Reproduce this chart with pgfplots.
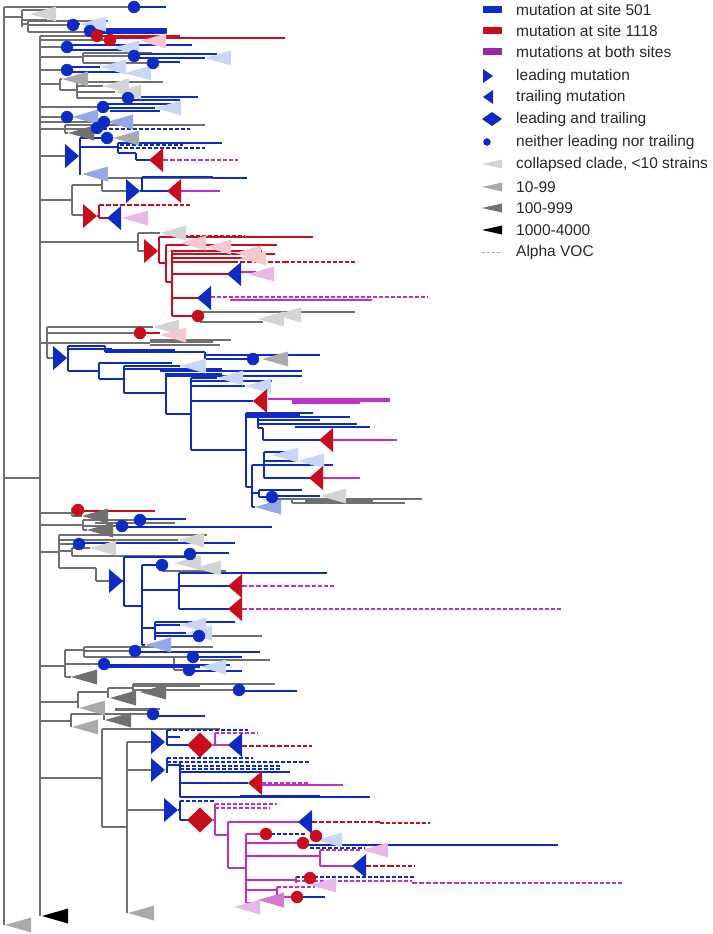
\documentclass[border=0pt]{standalone}
\usepackage{pgfplots}
\pgfplotsset{compat=1.18}
\usepackage{fontspec}
\setmainfont{Liberation Sans}
\definecolor{cgrey}{RGB}{112,112,112}
\definecolor{cblue}{RGB}{14,44,196}
\definecolor{cred}{RGB}{200,14,28}
\definecolor{cpur}{RGB}{192,48,200}
\definecolor{clegpur}{RGB}{150,40,160}
\definecolor{tlgrey}{RGB}{212,212,212}
\definecolor{tmgrey}{RGB}{170,170,170}
\definecolor{tdgrey}{RGB}{112,112,112}
\definecolor{tlblue}{RGB}{202,214,246}
\definecolor{tmblue}{RGB}{150,168,230}
\definecolor{tpink}{RGB}{244,200,206}
\definecolor{tlpur}{RGB}{232,184,232}
\definecolor{tmpur}{RGB}{212,120,212}
\definecolor{ctext}{RGB}{40,40,40}
\pgfdeclareplotmark{lead}{\pgfpathmoveto{\pgfqpoint{-7pt}{12pt}}\pgfpathlineto{\pgfqpoint{7pt}{0pt}}\pgfpathlineto{\pgfqpoint{-7pt}{-12pt}}\pgfpathclose\pgfusepathqfill}
\pgfdeclareplotmark{trail}{\pgfpathmoveto{\pgfqpoint{7pt}{12pt}}\pgfpathlineto{\pgfqpoint{-7pt}{0pt}}\pgfpathlineto{\pgfqpoint{7pt}{-12pt}}\pgfpathclose\pgfusepathqfill}
\pgfdeclareplotmark{dia}{\pgfpathmoveto{\pgfqpoint{0pt}{12.5pt}}\pgfpathlineto{\pgfqpoint{13pt}{0pt}}\pgfpathlineto{\pgfqpoint{0pt}{-12.5pt}}\pgfpathlineto{\pgfqpoint{-13pt}{0pt}}\pgfpathclose\pgfusepathqfill}
\pgfdeclareplotmark{clade}{\pgfpathmoveto{\pgfqpoint{0pt}{0pt}}\pgfpathlineto{\pgfqpoint{26pt}{7.5pt}}\pgfpathlineto{\pgfqpoint{26pt}{-7.5pt}}\pgfpathclose\pgfusepathqfill}
\pgfdeclareplotmark{legrect}{\pgfpathrectangle{\pgfqpoint{-9.5pt}{-3.5pt}}{\pgfqpoint{19pt}{7pt}}\pgfusepathqfill}
\pgfdeclareplotmark{leglead}{\pgfpathmoveto{\pgfqpoint{-5pt}{7pt}}\pgfpathlineto{\pgfqpoint{5pt}{0pt}}\pgfpathlineto{\pgfqpoint{-5pt}{-7pt}}\pgfpathclose\pgfusepathqfill}
\pgfdeclareplotmark{legtrail}{\pgfpathmoveto{\pgfqpoint{5pt}{7pt}}\pgfpathlineto{\pgfqpoint{-5pt}{0pt}}\pgfpathlineto{\pgfqpoint{5pt}{-7pt}}\pgfpathclose\pgfusepathqfill}
\pgfdeclareplotmark{legdia}{\pgfpathmoveto{\pgfqpoint{0pt}{7pt}}\pgfpathlineto{\pgfqpoint{10pt}{0pt}}\pgfpathlineto{\pgfqpoint{0pt}{-7pt}}\pgfpathlineto{\pgfqpoint{-10pt}{0pt}}\pgfpathclose\pgfusepathqfill}
\pgfdeclareplotmark{legclade}{\pgfpathmoveto{\pgfqpoint{-10pt}{0pt}}\pgfpathlineto{\pgfqpoint{10pt}{4.5pt}}\pgfpathlineto{\pgfqpoint{10pt}{-4.5pt}}\pgfpathclose\pgfusepathqfill}
\pgfplotsset{
  br/.style={no markers, line width=1.15pt, forget plot},
  thk/.style={no markers, line width=2.6pt, forget plot},
  dsh/.style={no markers, line width=1.15pt, dash pattern=on 4pt off 2pt, forget plot},
  dshk/.style={no markers, line width=2.6pt, dash pattern=on 5pt off 2pt, forget plot},
  mk/.style={only marks, forget plot},
}
\begin{document}
\begin{tikzpicture}
\begin{axis}[width=712pt, height=934pt, scale only axis,
  xmin=0, xmax=712, ymin=0, ymax=934, y dir=reverse,
  hide axis, clip=false, unbounded coords=jump, filter discard warning=false]
% ---------- grey tree branches ----------
\addplot[br, color=cgrey] coordinates {
(4,7)(4,925) (nan,nan) (4,7)(134,7) (nan,nan) (4,17)(22,17) (nan,nan) (22,10)(22,27) (nan,nan)
(22,24)(28,24) (nan,nan) (28,21)(28,32) (nan,nan) (28,21)(108,21) (nan,nan) (28,25)(73,25) (nan,nan) (28,32)(90,32) (nan,nan)
(40,36)(40,916) (nan,nan) (4,478)(40,478) (nan,nan) (40,36)(97,36) (nan,nan) (40,40)(110,40) (nan,nan) (40,47)(67,47) (nan,nan)
(40,57)(83,57) (nan,nan) (83,53)(83,63) (nan,nan) (83,53)(152,53) (nan,nan) (83,56)(134,56) (nan,nan) (83,63)(153,63) (nan,nan)
(40,70)(67,70) (nan,nan) (40,84)(60,84) (nan,nan) (60,79)(60,90) (nan,nan) (60,79)(62,79) (nan,nan) (60,90)(77,90) (nan,nan)
(77,82)(77,98) (nan,nan) (77,82)(163,82) (nan,nan) (77,86)(103,86) (nan,nan) (77,92)(115,92) (nan,nan) (77,98)(128,98) (nan,nan)
(40,107)(103,107) (nan,nan) (40,117)(67,117) (nan,nan) (40,122)(104,122) (nan,nan) (40,129)(65,129) (nan,nan)
(65,125)(65,133) (nan,nan) (65,125)(205,125) (nan,nan) (65,129)(97,129) (nan,nan) (65,133)(68,133) (nan,nan)
(40,156)(66,156) (nan,nan) (40,200)(72,200) (nan,nan) (72,185)(72,215) (nan,nan) (72,185)(102,185) (nan,nan)
(102,178)(102,191) (nan,nan) (102,178)(213,178) (nan,nan) (102,191)(127,191) (nan,nan) (72,215)(84,215) (nan,nan)
(40,242)(138,242) (nan,nan) (138,233)(138,251) (nan,nan) (138,233)(160,233) (nan,nan) (138,251)(145,251) (nan,nan)
(198,312)(355,312) (nan,nan) (200,322)(263,322) (nan,nan)
(40,343)(47,343) (nan,nan) (47,327)(47,358) (nan,nan) (47,327)(153,327) (nan,nan) (47,333)(140,333) (nan,nan)
(47,343)(150,343) (nan,nan) (150,340)(231,340) (nan,nan) (150,345)(220,345) (nan,nan) (47,358)(53,358) (nan,nan)
(273,499)(422,499) (nan,nan) (292,499)(292,503) (nan,nan) (292,503)(405,503) (nan,nan)
(40,513)(72,513) (nan,nan) (72,508)(72,516) (nan,nan) (72,510)(78,510) (nan,nan) (72,516)(82,516) (nan,nan)
(40,525)(83,525) (nan,nan) (83,520)(83,530) (nan,nan) (83,520)(140,520) (nan,nan) (83,526)(122,526) (nan,nan) (83,530)(87,530) (nan,nan)
(95,523)(175,523) (nan,nan)
(40,552)(59,552) (nan,nan) (59,535)(59,568) (nan,nan) (59,535)(207,535) (nan,nan) (59,540)(178,540) (nan,nan) (59,544)(79,544) (nan,nan)
(59,551)(72,551) (nan,nan) (72,548)(72,556) (nan,nan) (72,548)(90,548) (nan,nan) (72,556)(190,556) (nan,nan)
(59,568)(96,568) (nan,nan) (96,568)(96,581) (nan,nan) (96,581)(110,581) (nan,nan)
(162,571)(226,571) (nan,nan) (199,636)(262,636) (nan,nan)
(40,666)(65,666) (nan,nan) (65,650)(65,677) (nan,nan) (65,650)(84,650) (nan,nan) (84,647)(84,657) (nan,nan)
(84,647)(213,647) (nan,nan) (84,651)(135,651) (nan,nan) (84,657)(174,657) (nan,nan) (174,657)(174,670) (nan,nan)
(174,657)(193,657) (nan,nan) (174,670)(189,670) (nan,nan) (200,660)(270,660) (nan,nan) (65,664)(104,664) (nan,nan) (65,677)(71,677) (nan,nan)
(40,702)(78,702) (nan,nan) (78,692)(78,708) (nan,nan) (78,692)(108,692) (nan,nan) (108,688)(108,698) (nan,nan)
(108,688)(133,688) (nan,nan) (133,684)(133,692) (nan,nan) (133,684)(275,684) (nan,nan) (133,690)(239,690) (nan,nan)
(40,721)(71,721) (nan,nan) (71,714)(71,727) (nan,nan) (71,714)(104,714) (nan,nan) (104,711)(104,720) (nan,nan)
(104,714)(153,714) (nan,nan) (115,709)(160,709) (nan,nan)
(40,778)(102,778) (nan,nan) (102,729)(102,827) (nan,nan) (102,729)(220,729) (nan,nan) (102,827)(127,827) (nan,nan)
(127,742)(127,913) (nan,nan) (127,742)(152,742) (nan,nan) (127,770)(152,770) (nan,nan) (127,810)(165,810)
};
\addplot[thk, color=tdgrey] coordinates {
(22,10)(55,10) (nan,nan) (22,20)(47,20) (nan,nan) (59,535)(120,535) (nan,nan) (150,342)(213,342) (nan,nan)
(305,501)(373,501) (nan,nan) (95,523)(150,523) (nan,nan) (115,710)(150,710) (nan,nan) (133,686)(200,686)
};
\addplot[dshk, color=cgrey] coordinates {(200,312)(282,312)};
\addplot[dsh, color=cgrey] coordinates {(282,312)(312,312)};
% ---------- blue branches ----------
\addplot[br, color=cblue] coordinates {
(134,7)(166,7) (nan,nan) (73,24)(80,24) (nan,nan) (90,29)(167,29) (nan,nan) (90,31)(167,31) (nan,nan) (90,33)(167,33) (nan,nan)
(67,45)(192,45) (nan,nan) (67,50)(125,50) (nan,nan) (134,54)(217,54) (nan,nan) (134,58)(205,58) (nan,nan) (153,62)(180,62) (nan,nan)
(67,67)(100,67) (nan,nan) (67,72)(125,72) (nan,nan) (128,97)(198,97) (nan,nan) (128,100)(180,100) (nan,nan)
(103,104)(175,104) (nan,nan) (103,108)(155,108) (nan,nan) (110,111)(160,111) (nan,nan) (67,117)(72,117) (nan,nan) (104,122)(107,122) (nan,nan)
(79,156)(80,156) (nan,nan) (80,138)(80,175) (nan,nan) (80,138)(107,138) (nan,nan) (80,147)(118,147) (nan,nan) (118,143)(118,153) (nan,nan)
(118,143)(222,143) (nan,nan) (118,153)(136,153) (nan,nan) (136,153)(136,160) (nan,nan) (136,160)(150,160) (nan,nan)
(213,178)(247,178) (nan,nan) (140,191)(142,191) (nan,nan) (142,177)(142,191) (nan,nan) (142,177)(213,177) (nan,nan) (142,191)(168,191) (nan,nan)
(67,358)(68,358) (nan,nan) (68,346)(68,371) (nan,nan) (68,346)(105,346) (nan,nan) (68,349)(112,349) (nan,nan) (105,346)(105,352) (nan,nan)
(105,352)(205,352) (nan,nan) (205,352)(205,359) (nan,nan) (205,355)(320,355) (nan,nan) (205,359)(253,359) (nan,nan)
(68,371)(99,371) (nan,nan) (99,363)(99,379) (nan,nan) (99,363)(172,363) (nan,nan) (99,379)(124,379) (nan,nan)
(124,366)(124,393) (nan,nan) (124,366)(180,366) (nan,nan) (124,369)(222,369) (nan,nan) (160,371)(302,371) (nan,nan)
(124,393)(166,393) (nan,nan) (166,373)(166,414) (nan,nan) (166,374)(222,374) (nan,nan) (166,376)(302,376) (nan,nan)
(166,414)(191,414) (nan,nan) (191,378)(191,450) (nan,nan) (191,378)(217,378) (nan,nan) (191,381)(272,381) (nan,nan)
(191,386)(245,386) (nan,nan) (191,401)(253,401) (nan,nan) (191,450)(246,450) (nan,nan) (246,413)(246,487) (nan,nan)
(246,413)(313,413) (nan,nan) (246,417)(350,417) (nan,nan) (258,417)(258,428) (nan,nan) (258,420)(320,420) (nan,nan)
(258,424)(357,424) (nan,nan) (295,427)(370,427) (nan,nan) (258,428)(263,428) (nan,nan) (263,428)(263,440) (nan,nan) (263,440)(320,440) (nan,nan)
(246,487)(252,487) (nan,nan) (252,465)(252,507) (nan,nan) (252,465)(264,465) (nan,nan) (264,452)(264,478) (nan,nan)
(264,452)(290,452) (nan,nan) (264,461)(298,461) (nan,nan) (264,465)(333,465) (nan,nan) (264,478)(310,478) (nan,nan)
(252,493)(259,493) (nan,nan) (259,490)(259,497) (nan,nan) (259,490)(302,490) (nan,nan) (259,497)(272,497) (nan,nan) (272,496)(320,496) (nan,nan)
(252,507)(255,507) (nan,nan)
(140,519)(186,519) (nan,nan) (122,527)(272,527) (nan,nan) (79,543)(235,543) (nan,nan) (190,553)(229,553) (nan,nan)
(122,581)(124,581) (nan,nan) (124,557)(124,606) (nan,nan) (124,557)(190,557) (nan,nan) (124,606)(142,606) (nan,nan)
(142,565)(142,645) (nan,nan) (142,565)(162,565) (nan,nan) (142,590)(179,590) (nan,nan) (179,573)(179,609) (nan,nan)
(179,573)(327,573) (nan,nan) (179,586)(229,586) (nan,nan) (179,609)(229,609) (nan,nan) (142,628)(155,628) (nan,nan)
(155,622)(155,640) (nan,nan) (155,622)(235,622) (nan,nan) (155,625)(180,625) (nan,nan) (155,633)(186,633) (nan,nan)
(155,636)(199,636) (nan,nan) (142,645)(145,645) (nan,nan)
(135,652)(260,652) (nan,nan) (193,657)(242,657) (nan,nan) (104,665)(230,665) (nan,nan) (104,667)(200,667) (nan,nan)
(189,671)(242,671) (nan,nan) (239,691)(297,691) (nan,nan) (153,716)(205,716) (nan,nan)
(166,742)(167,742) (nan,nan) (167,730)(167,745) (nan,nan) (167,737)(180,737) (nan,nan) (167,745)(188,745) (nan,nan)
(166,770)(167,770) (nan,nan) (167,758)(167,773) (nan,nan) (167,765)(180,765) (nan,nan) (180,762)(180,797) (nan,nan)
(180,772)(290,772) (nan,nan) (180,783)(248,783) (nan,nan) (180,797)(370,797) (nan,nan)
(178,810)(180,810) (nan,nan) (180,801)(180,820) (nan,nan) (180,820)(188,820) (nan,nan) (303,845)(558,845)
};
\addplot[thk, color=cblue] coordinates {(105,350)(175,350) (nan,nan) (246,415)(300,415) (nan,nan) (240,796)(320,796) (nan,nan) (300,897)(325,897)};
\addplot[dsh, color=cblue] coordinates {
(97,129)(190,129) (nan,nan) (120,145)(183,145) (nan,nan) (118,148)(205,148) (nan,nan) (167,730)(248,730) (nan,nan)
(167,758)(253,758) (nan,nan) (167,762)(310,762) (nan,nan) (180,766)(280,766) (nan,nan) (180,769)(280,769) (nan,nan)
(180,801)(216,801) (nan,nan) (271,834)(305,834) (nan,nan) (310,848)(365,848) (nan,nan) (296,877)(415,877)
};
% ---------- red branches ----------
\addplot[br, color=cred] coordinates {
(97,36)(180,36) (nan,nan) (110,38)(285,38) (nan,nan) (140,333)(160,333) (nan,nan) (78,511)(155,511) (nan,nan)
(97,216)(99,216) (nan,nan) (99,205)(99,218) (nan,nan) (99,218)(108,218) (nan,nan)
(158,251)(159,251) (nan,nan) (159,237)(159,263) (nan,nan) (159,237)(313,237) (nan,nan) (159,263)(166,263) (nan,nan)
(166,245)(166,282) (nan,nan) (166,245)(277,245) (nan,nan) (166,282)(172,282) (nan,nan) (172,250)(172,316) (nan,nan)
(172,251)(262,251) (nan,nan) (172,254)(275,254) (nan,nan) (172,258)(262,258) (nan,nan) (172,262)(233,262) (nan,nan)
(172,274)(228,274) (nan,nan) (172,298)(198,298) (nan,nan) (172,316)(198,316)
};
\addplot[dshk, color=cred] coordinates {(99,205)(150,205) (nan,nan) (233,262)(285,262) (nan,nan) (242,746)(285,746) (nan,nan) (312,822)(380,822) (nan,nan) (366,866)(390,866)};
\addplot[dsh, color=cred] coordinates {(150,205)(190,205) (nan,nan) (178,236)(245,236) (nan,nan) (285,262)(357,262) (nan,nan) (285,746)(312,746) (nan,nan) (380,823)(430,823) (nan,nan) (390,866)(415,866)};
% ---------- purple branches ----------
\addplot[br, color=cpur] coordinates {
(181,191)(220,191) (nan,nan) (241,272)(256,272) (nan,nan) (230,300)(372,300) (nan,nan) (268,399)(390,399) (nan,nan)
(292,401)(390,401) (nan,nan) (292,403)(360,403) (nan,nan) (333,440)(397,440) (nan,nan) (322,478)(360,478) (nan,nan)
(213,745)(229,745) (nan,nan) (215,733)(215,745) (nan,nan) (262,785)(343,785) (nan,nan) (213,820)(215,820) (nan,nan)
(215,804)(215,835) (nan,nan) (215,835)(228,835) (nan,nan) (228,822)(228,868) (nan,nan) (228,822)(299,822) (nan,nan)
(228,868)(246,868) (nan,nan) (246,834)(246,903) (nan,nan) (246,834)(266,834) (nan,nan) (246,843)(303,843) (nan,nan)
(246,856)(320,856) (nan,nan) (320,850)(320,866) (nan,nan) (320,866)(353,866) (nan,nan) (246,880)(296,880) (nan,nan)
(296,877)(296,883) (nan,nan) (246,890)(277,890) (nan,nan) (277,887)(277,897) (nan,nan) (277,897)(297,897) (nan,nan) (246,903)(258,903)
};
\addplot[thk, color=cpur] coordinates {(181,191)(201,191)};
\addplot[dsh, color=cpur] coordinates {
(205,160)(238,160) (nan,nan) (211,297)(428,297) (nan,nan) (312,586)(335,586) (nan,nan) (305,609)(562,609) (nan,nan)
(215,733)(258,733) (nan,nan) (262,783)(310,783) (nan,nan) (215,804)(277,804) (nan,nan) (215,808)(270,808) (nan,nan)
(320,850)(362,850) (nan,nan) (296,881)(412,881) (nan,nan) (468,883)(622,883) (nan,nan) (277,887)(315,887)
};
\addplot[dshk, color=cpur] coordinates {(163,160)(205,160) (nan,nan) (242,586)(312,586) (nan,nan) (242,609)(305,609) (nan,nan) (412,883)(468,883)};
% ---------- collapsed clades ----------
\addplot[mk, mark=clade, color=tlgrey] coordinates {(30,14)(103,86)(115,92)(160,233)(153,327)(258,319)(275,315)(178,540)(90,548)(175,563)(195,568)(320,496)};
\addplot[mk, mark=clade, color=tmgrey] coordinates {(62,79)(113,138)(262,359)(72,727)(79,708)(128,913)(5,925)};
\addplot[mk, mark=clade, color=tdgrey] coordinates {(68,133)(82,516)(87,530)(71,677)(110,698)(105,720)(140,692)};
\addplot[mk, mark=clade, color=black] coordinates {(42,916)};
\addplot[mk, mark=clade, color=tlblue] coordinates {(80,24)(113,48)(205,58)(100,67)(125,73)(155,108)(180,366)(217,378)(245,386)(272,455)(298,461)(180,625)(186,633)(200,667)(316,840)};
\addplot[mk, mark=clade, color=tmblue] coordinates {(72,117)(107,122)(82,174)(255,507)(145,645)};
\addplot[mk, mark=clade, color=tpink] coordinates {(140,41)(160,335)(180,243)(205,247)(235,253)(240,258)};
\addplot[mk, mark=clade, color=tlpur] coordinates {(122,218)(248,274)(362,850)(310,885)(234,907)};
\addplot[mk, mark=clade, color=tmpur] coordinates {(258,900)};
% ---------- mutation markers ----------
\addplot[mk, mark=lead, color=cblue] coordinates {(72,156)(133,191)(60,358)(116,581)(158,742)(158,770)(171,810)};
\addplot[mk, mark=lead, color=cred] coordinates {(90,216)(151,251)};
\addplot[mk, mark=trail, color=cred] coordinates {(156,160)(174,191)(260,401)(326,440)(316,478)(235,586)(235,609)(255,783)};
\addplot[mk, mark=trail, color=cblue] coordinates {(114,218)(234,274)(204,298)(235,745)(305,822)(359,866)};
\addplot[mk, mark=dia, color=cred] coordinates {(200,745)(200,820)};
\addplot[mk, mark=*, mark size=6pt, color=cblue] coordinates {(134,7)(73,25)(90,31)(67,47)(134,56)(153,63)(67,70)(128,98)(103,107)(67,117)(104,122)(97,128)(107,138)(253,359)(272,497)(140,520)(122,526)(79,544)(190,554)(162,565)(199,636)(135,651)(193,657)(104,664)(189,670)(239,690)(153,714)};
\addplot[mk, mark=*, mark size=6pt, color=cred] coordinates {(97,36)(110,40)(198,316)(140,333)(78,510)(266,834)(316,836)(303,843)(310,878)(297,897)};
% ---------- legend ----------
\addplot[mk, mark=legrect, color=cblue] coordinates {(492,9.5)};
\addplot[mk, mark=legrect, color=cred] coordinates {(492,31)};
\addplot[mk, mark=legrect, color=clegpur] coordinates {(492,52)};
\addplot[mk, mark=leglead, color=cblue] coordinates {(488,76)};
\addplot[mk, mark=legtrail, color=cblue] coordinates {(488,97)};
\addplot[mk, mark=legdia, color=cblue] coordinates {(492,119)};
\addplot[mk, mark=*, mark size=3.5pt, color=cblue] coordinates {(487,142)};
\addplot[mk, mark=legclade, color=tlgrey] coordinates {(492,164)};
\addplot[mk, mark=legclade, color=tmgrey] coordinates {(492,187)};
\addplot[mk, mark=legclade, color=tdgrey] coordinates {(492,208)};
\addplot[mk, mark=legclade, color=black] coordinates {(492,230)};
\addplot[dsh, line width=0.8pt, color=tmgrey, dash pattern=on 3pt off 2pt] coordinates {(482,252)(502,252)};
\begin{scope}[every node/.style={anchor=west, inner sep=0pt, text=ctext, font=\fontsize{15.5}{18}\selectfont}]
\node at (axis cs:516,9.5) {mutation at site 501};
\node at (axis cs:516,31) {mutation at site 1118};
\node at (axis cs:516,52) {mutations at both sites};
\node at (axis cs:516,76) {leading mutation};
\node at (axis cs:516,97) {trailing mutation};
\node at (axis cs:516,119) {leading and trailing};
\node at (axis cs:516,142) {neither leading nor trailing};
\node at (axis cs:516,164) {collapsed clade, <10 strains};
\node at (axis cs:516,187) {10-99};
\node at (axis cs:516,208) {100-999};
\node at (axis cs:516,230) {1000-4000};
\node at (axis cs:516,252) {Alpha VOC};
\end{scope}
\end{axis}
\pgfresetboundingbox
\path (current axis.south west) rectangle (current axis.north east);
\end{tikzpicture}
\end{document}
